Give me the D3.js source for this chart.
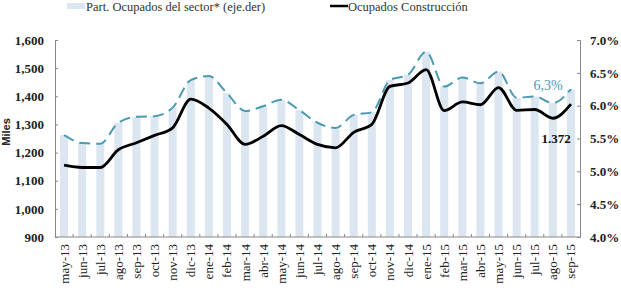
<!DOCTYPE html>
<html><head><meta charset="utf-8">
<script src="https://cdn.jsdelivr.net/npm/d3@7"></script>
<style>body{margin:0;background:#fff}svg{display:block}</style>
</head><body>
<script>
const months = ["may-13","jun-13","jul-13","ago-13","sep-13","oct-13","nov-13","dic-13","ene-14","feb-14","mar-14","abr-14","may-14","jun-14","jul-14","ago-14","sep-14","oct-14","nov-14","dic-14","ene-15","feb-15","mar-15","abr-15","may-15","jun-15","jul-15","ago-15","sep-15"];
const ocupados = [1155,1147,1147,1210,1235,1261,1288,1390,1358,1300,1229,1258,1296,1264,1229,1217,1272,1300,1435,1447,1495,1349,1380,1370,1431,1350,1353,1322,1372];
const participacion = [5.55,5.43,5.42,5.74,5.83,5.84,5.97,6.39,6.45,6.19,5.92,5.99,6.09,5.93,5.74,5.66,5.86,5.90,6.39,6.47,6.82,6.29,6.43,6.34,6.52,6.12,6.14,6.04,6.25];
const leftTicks = [900,1000,1100,1200,1300,1400,1500,1600];
const rightTicks = [4.0,4.5,5.0,5.5,6.0,6.5,7.0];

const W=621,H=288, L=55, R=580, T=40, B=237;
const svg=d3.select("body").append("svg").attr("width",W).attr("height",H);
const serif="'Liberation Serif','DejaVu Serif',serif";

const x=d3.scaleBand().domain(months).range([L,R]);
const yL=d3.scaleLinear().domain([900,1600]).range([B,T]);
const yR=d3.scaleLinear().domain([4,7]).range([B,T]);

// bars
svg.append("g").selectAll("rect").data(participacion).join("rect")
  .attr("x",(d,i)=>x(months[i])+x.bandwidth()/2-4).attr("width",8)
  .attr("y",d=>yR(d)).attr("height",d=>B-yR(d)).attr("fill","#dce6f1");

// dashed line
const cx=(i)=>x(months[i])+x.bandwidth()/2;
svg.append("path").datum(participacion)
  .attr("d",d3.line().x((d,i)=>cx(i)).y(d=>yR(d)).curve(d3.curveMonotoneX))
  .attr("fill","none").attr("stroke","#4a9ab2").attr("stroke-width",2)
  .attr("stroke-dasharray","11,6");

// black line
svg.append("path").datum(ocupados)
  .attr("d",d3.line().x((d,i)=>cx(i)).y(d=>yL(d)).curve(d3.curveMonotoneX))
  .attr("fill","none").attr("stroke","#000").attr("stroke-width",2.8);

// axes
const axL=svg.append("g").attr("transform",`translate(${L},0)`)
  .call(d3.axisRight(yL).tickValues(leftTicks).tickSize(3).tickFormat(d3.format(",")));
axL.selectAll("text").attr("x",-11).attr("text-anchor","end")
  .style("font-family",serif).style("font-size","13px").style("font-weight","bold").attr("fill","#222");
const axR=svg.append("g").attr("transform",`translate(${R},0)`)
  .call(d3.axisLeft(yR).tickValues(rightTicks).tickSize(3).tickFormat(d=>d3.format(".1f")(d)+"%"));
axR.selectAll("text").attr("x",10).attr("text-anchor","start")
  .style("font-family",serif).style("font-size","13px").style("font-weight","bold").attr("fill","#222");
[axL,axR].forEach(a=>{a.select(".domain").attr("stroke","#888");a.selectAll("line").attr("stroke","#888");});

// bottom axis
const gB=svg.append("g");
gB.append("line").attr("x1",L).attr("x2",R).attr("y1",B).attr("y2",B).attr("stroke","#888");
gB.selectAll("line.t").data(months.slice(1)).join("line").attr("class","t")
  .attr("x1",d=>x(d)).attr("x2",d=>x(d)).attr("y1",B).attr("y2",B-3).attr("stroke","#888");
gB.selectAll("text").data(months).join("text")
  .attr("transform",d=>`translate(${x(d)+x.bandwidth()/2+4.5},${B+7}) rotate(-90)`)
  .attr("text-anchor","end").style("font-family",serif).style("font-size","13px").attr("fill","#222").text(d=>d);

// axis title
svg.append("text").attr("transform","translate(10,132) rotate(-90)").attr("text-anchor","middle")
  .style("font-family","'Liberation Sans',Arial,sans-serif").style("font-size","11px").style("font-weight","bold").attr("fill","#222").text("Miles");

// annotations
svg.append("text").attr("x",548).attr("y",90).attr("text-anchor","middle")
  .style("font-family",serif).style("font-size","14px").attr("fill","#4a9ab2").text("6,3%");
svg.append("text").attr("x",556).attr("y",143).attr("text-anchor","middle")
  .style("font-family",serif).style("font-size","13px").style("font-weight","bold").attr("fill","#111").text("1.372");

// legend
svg.append("rect").attr("x",67).attr("y",3).attr("width",18).attr("height",6).attr("fill","#dce6f1");
svg.append("text").attr("x",86).attr("y",11).style("font-family",serif).style("font-size","12.5px").attr("fill","#333").text("Part. Ocupados del sector* (eje.der)");
svg.append("line").attr("x1",330).attr("x2",348).attr("y1",6).attr("y2",6).attr("stroke","#000").attr("stroke-width",2.5);
svg.append("text").attr("x",348).attr("y",11).style("font-family",serif).style("font-size","12.5px").attr("fill","#333").text("Ocupados Construcción");
</script>
</body></html>
